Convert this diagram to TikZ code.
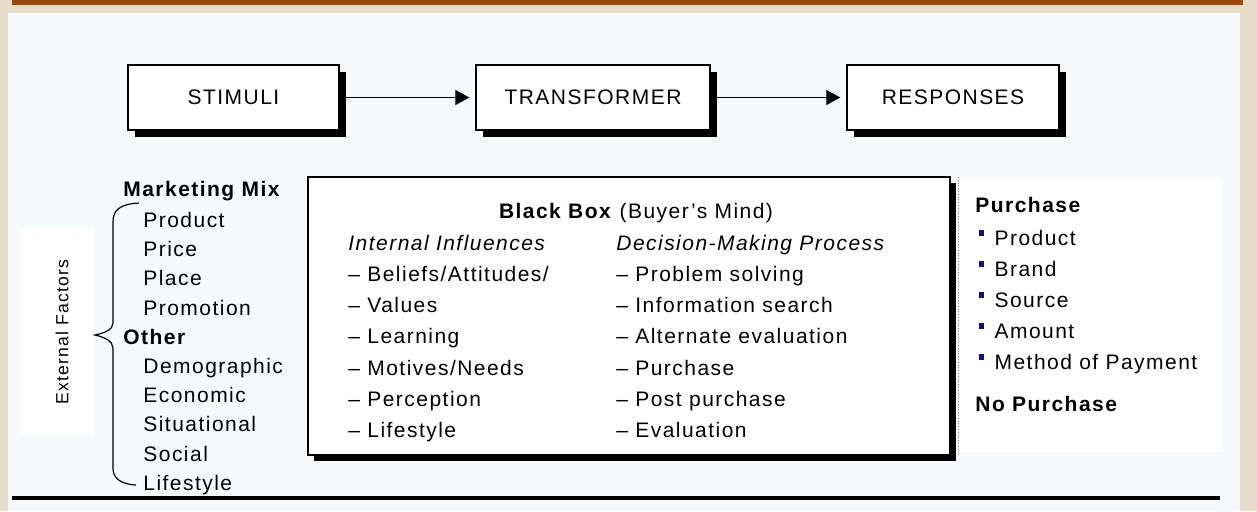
\documentclass[tikz,border=0pt]{standalone}
\usepackage{fontspec}
\setmainfont{Liberation Sans}[LetterSpace=7]
\usepackage{xcolor}
\usetikzlibrary{arrows.meta,shadows}
\definecolor{panel}{HTML}{F7FAFD}
\definecolor{beige}{HTML}{E6DCC9}
\definecolor{rust}{HTML}{9C4A0C}
\definecolor{bulletblue}{HTML}{10107F}
\newcommand{\bul}{{\color{bulletblue}\rule[4.3pt]{2.3pt}{3.3pt}}\hspace{5.3pt}}

\begin{document}
\begin{tikzpicture}[x=0.5pt,y=-0.5pt,
% common options for the top blocks:
block/.style = {draw, fill=white, line width=0.7pt, minimum width=105.5pt,
            minimum height=32.5pt, inner sep=0,
            drop shadow={shadow xshift=3.5pt, shadow yshift=-3.5pt, opacity=1, fill=black}},
% the big black box:
bigbox/.style = {draw, fill=white, line width=0.7pt, inner sep=0,
            drop shadow={shadow xshift=3pt, shadow yshift=-3pt, opacity=1, fill=black}},
% common options for the list entries:
item/.style = {anchor=base west, inner sep=0, font=\fontsize{10.5}{12}\selectfont},
head/.style = {item, font=\fontsize{10.5}{12}\selectfont\bfseries},
flow/.style = {-{Triangle[length=7pt,width=7.5pt]}, line width=0.6pt, shorten >=3pt}]
\useasboundingbox (0,0) rectangle (1257,511);
% background
\fill[beige] (0,0) rectangle (1257,511);
\fill[rust] (12,0) rectangle (1243,5);
\fill[panel] (8,13) rectangle (1240,511);
\fill[white] (20,228) rectangle (94,435);
\fill[white] (960,177) rectangle (1222,452);
\draw[line width=2pt] (12,498) -- (1220,498);
% top row
\node[block,font=\fontsize{10.5}{12}\selectfont] (S) at (233.5,97.5) {STIMULI};
\node[block,font=\fontsize{10.5}{12}\selectfont,minimum width=117pt] (T) at (593,97.5) {TRANSFORMER};
\node[block,font=\fontsize{10.5}{12}\selectfont,minimum width=106pt] (R) at (953,97.5) {RESPONSES};
\draw[flow] (S.east) to (T.west);
\draw[flow] (T.east) to (R.west);
% external factors
\node[item,anchor=center,rotate=90,font=\fontsize{8.8}{10}\selectfont] (EF) at (62,332) {External Factors};
\draw[line width=0.6pt] (139,203) .. controls (120,204) and (113,210) .. (113,222) -- (113,323)
   .. controls (113,330) and (104,333) .. (95,335) .. controls (104,337) and (113,341) .. (113,348)
   -- (113,468) .. controls (113,478) and (120,484) .. (136,485);
\node[head] (M0) at (123,196) {Marketing Mix};
\node[item] (M1) at (143,227) {Product};
\node[item] (M2) at (143,256) {Price};
\node[item] (M3) at (143,285) {Place};
\node[item] (M4) at (143,315) {Promotion};
\node[head] (O0) at (123,344) {Other};
\node[item] (O1) at (143,373) {Demographic};
\node[item] (O2) at (143,402) {Economic};
\node[item] (O3) at (143,431) {Situational};
\node[item] (O4) at (143,461) {Social};
\node[item] (O5) at (143,490) {Lifestyle};
% black box
\node[bigbox,minimum width=321pt,minimum height=139pt] (BB) at (629,316) {};
\node[item,anchor=base] (BT) at (636,218) {\textbf{Black Box} (Buyer's Mind)};
\node[item] (I0) at (348,250) {\textit{Internal Influences}};
\node[item] (I1) at (348,281) {-- Beliefs/Attitudes/};
\node[item] (I2) at (348,312) {-- Values};
\node[item] (I3) at (348,343) {-- Learning};
\node[item] (I4) at (348,375) {-- Motives/Needs};
\node[item] (I5) at (348,406) {-- Perception};
\node[item] (I6) at (348,437) {-- Lifestyle};
\node[item] (D0) at (616,250) {\textit{Decision-Making Process}};
\node[item] (D1) at (616,281) {-- Problem solving};
\node[item] (D2) at (616,312) {-- Information search};
\node[item] (D3) at (616,343) {-- Alternate evaluation};
\node[item] (D4) at (616,375) {-- Purchase};
\node[item] (D5) at (616,406) {-- Post purchase};
\node[item] (D6) at (616,437) {-- Evaluation};
\draw[gray, densely dotted] (958,177) -- (958,455);
% responses
\node[head] (P0) at (975,212) {Purchase};
\node[item] (P1) at (979,245) {\bul Product};
\node[item] (P2) at (979,276) {\bul Brand};
\node[item] (P3) at (979,307) {\bul Source};
\node[item] (P4) at (979,338) {\bul Amount};
\node[item] (P5) at (979,369) {\bul Method of Payment};
\node[head] (N0) at (975,411) {No Purchase};
\end{tikzpicture}
\end{document}
